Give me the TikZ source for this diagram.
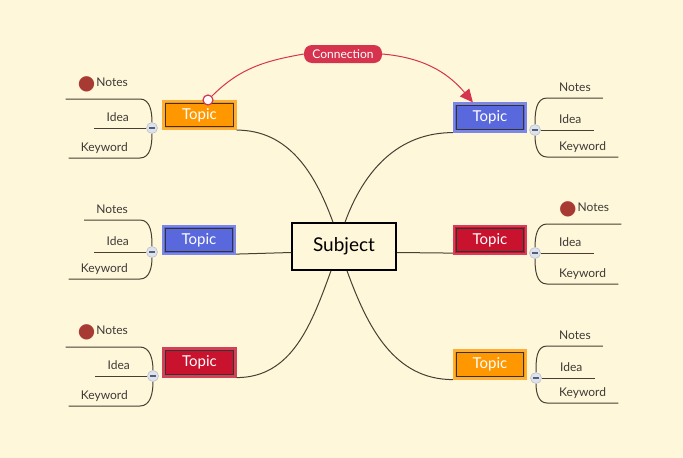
\documentclass[tikz,border=0pt]{standalone}
\usepackage{fontspec}
\setmainfont{Lato}
\newfontfamily\symfont{DejaVu Sans}
\usetikzlibrary{arrows.meta, positioning}

\definecolor{paper}{RGB}{255,247,218}
\definecolor{ink}{RGB}{72,62,52}
\definecolor{leaftext}{RGB}{62,58,54}
\definecolor{orangetopic}{RGB}{255,152,0}
\definecolor{bluetopic}{RGB}{90,104,222}
\definecolor{redtopic}{RGB}{200,18,46}
\definecolor{linkred}{RGB}{214,52,78}
\definecolor{notedot}{RGB}{168,58,52}
\definecolor{togglefill}{RGB}{222,226,234}
\definecolor{toggleline}{RGB}{188,194,206}
\definecolor{toggleminus}{RGB}{82,94,122}

\newcommand{\notemark}{\raisebox{-3pt}{\symfont\fontsize{20}{20}\selectfont\textcolor{notedot}{●}}\hspace{1pt}}

\begin{document}
\begin{tikzpicture}[
        x=1pt, y=-1pt,
        % Tema central
        subjectbox/.style={
                rectangle,
                draw=black,
                line width=1.5pt,
                fill=paper,
                minimum width=104pt,
                minimum height=47pt,
                font=\fontsize{19}{22}\selectfont
            },
        % Temas
        topicbox/.style={
                rectangle,
                fill=#1,
                draw=#1!80!white,
                line width=2.2pt,
                minimum width=72pt,
                minimum height=28pt,
                text=white,
                font=\fontsize{15}{18}\selectfont,
                path picture={
                        \draw[black!80, line width=0.9pt]
                        ([shift={(2.4pt,-2.4pt)}]path picture bounding box.north west) rectangle
                        ([shift={(-2.4pt,2.4pt)}]path picture bounding box.south east);
                    }
            },
        % Subtemas
        leaf/.style={
                font=\fontsize{12}{14}\selectfont,
                text=leaftext,
                inner xsep=12pt,
                inner ysep=0pt,
                text height=9pt,
                text depth=6pt
            },
        noteleaf/.style={leaf, text depth=12pt},
        leftleaf/.style={leaf, anchor=south east},
        rightleaf/.style={leaf, anchor=south west},
        % Boton de plegado
        toggle/.style={
                circle,
                fill=togglefill,
                draw=toggleline,
                line width=0.6pt,
                minimum size=11pt,
                inner sep=0pt,
                path picture={
                        \draw[toggleminus, line width=1.6pt]
                        ([xshift=-2.6pt]path picture bounding box.center) --
                        ([xshift=2.6pt]path picture bounding box.center);
                    }
            },
        % Lineas
        subbranch/.style={draw=ink, line width=1pt},
        topiclink/.style={draw=ink, line width=1pt},
        connline/.style={draw=linkred, line width=1pt},
        % Conexion
        connlabel/.style={
                rectangle,
                rounded corners=8pt,
                fill=linkred,
                text=white,
                minimum width=78pt,
                minimum height=18pt,
                inner sep=0pt,
                font=\fontsize{12}{14}\selectfont
            },
        connanchor/.style={
                circle,
                draw=linkred,
                fill=white,
                line width=1.2pt,
                minimum size=10pt,
                inner sep=0pt
            }
    ]

    % Fondo
    \fill[paper] (0,0) rectangle (683,458);
    \useasboundingbox (0,0) rectangle (683,458);

    % Tema central
    \node[subjectbox] (subject) at (344,246.5) {Subject};

    % Temas
    \node[topicbox=orangetopic] (tl) at (199.5,115) {Topic};
    \node[topicbox=bluetopic] (lm) at (199,240) {Topic};
    \node[topicbox=redtopic] (bl) at (199.5,362.5) {Topic};
    \node[topicbox=bluetopic] (tr) at (490,117.5) {Topic};
    \node[topicbox=redtopic] (rm) at (490,240) {Topic};
    \node[topicbox=orangetopic] (br) at (490,364.5) {Topic};

    % Ramas al tema central
    \draw[topiclink] (tl.south east) to[out=0, in=110] ([xshift=-11pt]subject.north);
    \draw[topiclink] (tr.south west) to[out=180, in=70] ([xshift=1pt]subject.north);
    \draw[topiclink] ([yshift=1pt]lm.south east) -- ([yshift=-6pt]subject.west);
    \draw[topiclink] ([yshift=-6pt]subject.east) -- ([yshift=2pt]rm.south west);
    \draw[topiclink] (bl.south east) to[out=0, in=-110] ([xshift=-13pt]subject.south);
    \draw[topiclink] (br.south west) to[out=180, in=-70] ([xshift=3pt]subject.south);

    % Subtemas arriba izquierda
    \node[toggle] (tlT) at (152,128) {};
    \node[leftleaf, noteleaf] (tlN) at (140,99) {\notemark Notes};
    \node[leftleaf] (tlI) at (141,128) {Idea};
    \node[leftleaf] (tlK) at (140,158) {Keyword};
    \draw[subbranch] (tlT.north) to[out=90, in=0] (tlN.south east) -- (tlN.south west);
    \draw[subbranch] (tlT.west) -- (tlI.south west);
    \draw[subbranch] (tlT.south) to[out=-90, in=0] (tlK.south east) -- (tlK.south west);

    % Subtemas centro izquierda
    \node[toggle] (lmT) at (152,252) {};
    \node[leftleaf] (lmN) at (140,220) {Notes};
    \node[leftleaf] (lmI) at (141,252) {Idea};
    \node[leftleaf] (lmK) at (140,279) {Keyword};
    \draw[subbranch] (lmT.north) to[out=90, in=0] (lmN.south east) -- (lmN.south west);
    \draw[subbranch] (lmT.west) -- (lmI.south west);
    \draw[subbranch] (lmT.south) to[out=-90, in=0] (lmK.south east) -- (lmK.south west);

    % Subtemas abajo izquierda
    \node[toggle] (blT) at (153,376) {};
    \node[leftleaf, noteleaf] (blN) at (140,347) {\notemark Notes};
    \node[leftleaf] (blI) at (142,376) {Idea};
    \node[leftleaf] (blK) at (140,406) {Keyword};
    \draw[subbranch] (blT.north) to[out=90, in=0] (blN.south east) -- (blN.south west);
    \draw[subbranch] (blT.west) -- (blI.south west);
    \draw[subbranch] (blT.south) to[out=-90, in=0] (blK.south east) -- (blK.south west);

    % Subtemas arriba derecha
    \node[toggle] (trT) at (535,130) {};
    \node[rightleaf] (trN) at (547,98) {Notes};
    \node[rightleaf] (trI) at (547,130) {Idea};
    \node[rightleaf] (trK) at (547,157) {Keyword};
    \draw[subbranch] (trT.north) to[out=90, in=180] (trN.south west) -- (trN.south east);
    \draw[subbranch] (trT.east) -- (trI.south east);
    \draw[subbranch] (trT.south) to[out=-90, in=180] (trK.south west) -- (trK.south east);

    % Subtemas centro derecha
    \node[toggle] (rmT) at (535,253) {};
    \node[rightleaf, noteleaf] (rmN) at (547,224) {\notemark Notes};
    \node[rightleaf] (rmI) at (547,253) {Idea};
    \node[rightleaf] (rmK) at (547,284) {Keyword};
    \draw[subbranch] (rmT.north) to[out=90, in=180] (rmN.south west) -- (rmN.south east);
    \draw[subbranch] (rmT.east) -- (rmI.south east);
    \draw[subbranch] (rmT.south) to[out=-90, in=180] (rmK.south west) -- (rmK.south east);

    % Subtemas abajo derecha
    \node[toggle] (brT) at (536,378) {};
    \node[rightleaf] (brN) at (547,346) {Notes};
    \node[rightleaf] (brI) at (548,378) {Idea};
    \node[rightleaf] (brK) at (547,403) {Keyword};
    \draw[subbranch] (brT.north) to[out=90, in=180] (brN.south west) -- (brN.south east);
    \draw[subbranch] (brT.east) -- (brI.south east);
    \draw[subbranch] (brT.south) to[out=-90, in=180] (brK.south west) -- (brK.south east);

    % Conexion
    \node[connanchor] (connstart) at (208,100) {};
    \node[connlabel] (connection) at (343,54) {Connection};
    \draw[connline] (connstart) to[out=45, in=190] (connection.west);
    \draw[connline, -{Triangle[length=13pt, width=12pt]}] (connection.east) to[out=-5, in=130] ([xshift=20pt]tr.north west);

\end{tikzpicture}
\end{document}
